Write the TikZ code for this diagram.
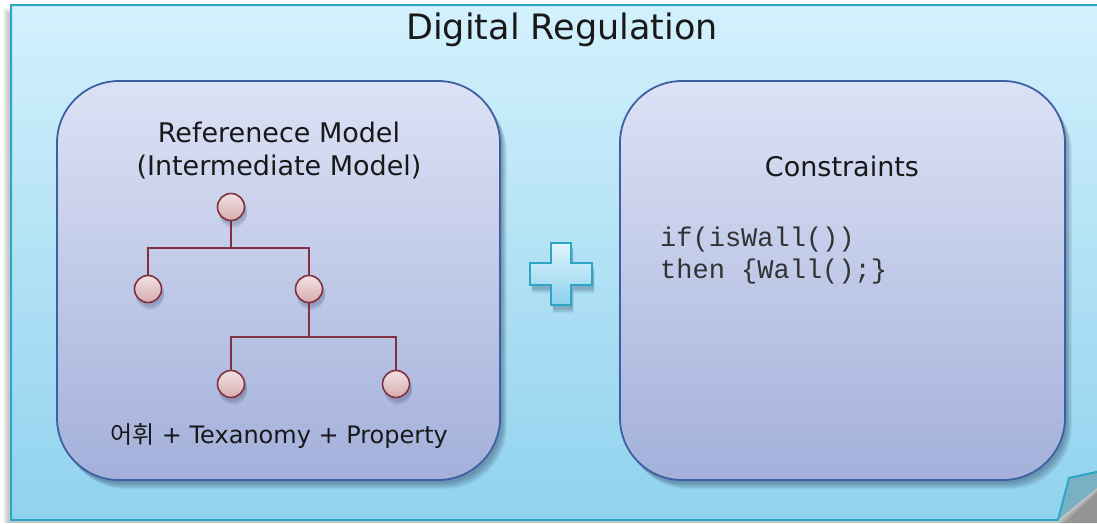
\documentclass[tikz,border=0pt]{standalone}
\usepackage{fontspec}
\setmainfont{DejaVu Sans}
\newfontfamily\krfont{Noto Sans CJK KR}
\newfontfamily\codefont{Liberation Mono}
\definecolor{outerline}{RGB}{46,166,198}
\definecolor{outertop}{RGB}{211,241,253}
\definecolor{outerbot}{RGB}{144,210,238}
\definecolor{panelline}{RGB}{62,96,162}
\definecolor{paneltop}{RGB}{220,226,245}
\definecolor{panelbot}{RGB}{163,176,218}
\definecolor{treeline}{RGB}{128,48,64}
\definecolor{nodetop}{RGB}{242,226,226}
\definecolor{nodebot}{RGB}{214,172,176}
\definecolor{plustop}{RGB}{224,245,253}
\definecolor{plusbot}{RGB}{140,208,236}
\definecolor{foldfill}{RGB}{122,176,196}
\definecolor{shadowc}{RGB}{40,60,90}
\tikzset{
  panel/.style={rounded corners=62pt, draw=panelline, line width=1.8pt,
    top color=paneltop, bottom color=panelbot},
  treenode/.style={circle, minimum size=27pt, inner sep=0pt, draw=treeline,
    line width=1.6pt, top color=nodetop, bottom color=nodebot},
  treelink/.style={draw=treeline, line width=2pt},
  label/.style={text=black!90, inner sep=0pt, anchor=base},
  caption/.style={label, font=\fontsize{27}{30}\selectfont},
  codeline/.style={text=black!80, inner sep=0pt, anchor=base west, font=\codefont\fontsize{27}{30}\selectfont},
}
\begin{document}
\begin{tikzpicture}[x=1pt,y=-1pt]
\useasboundingbox (0,0) rectangle (1097,523);
% soft shadow behind the sheet
\foreach \k in {0,...,5}{
  \fill[black, opacity=0.04] (3+\k,8+\k) rectangle (1097,523);
}
% the sheet with its curled corner
\path[top color=outertop, bottom color=outerbot]
  (11,5) -- (1110,5) -- (1110,471) -- (1069,478) -- (1058,520) -- (11,520) -- cycle;
% curl shadow
\foreach \k in {1,...,5}{
  \fill[black, opacity=0.06] (1058+\k,520+\k) -- (1097,488+\k) -- (1097,523) -- (1058+\k,523) -- cycle;
}
\fill[foldfill] (1058,520) -- (1069,478) -- (1097,471) -- (1097,488) -- cycle;
\draw[outerline, line width=2pt, line join=miter]
  (1110,5) -- (11,5) -- (11,520) -- (1058,520) -- (1069,478) -- (1110,469);

% title
\node[label, font=\fontsize{35}{38}\selectfont] (title) at (562,39) {Digital Regulation};

% panel shadows
\foreach \k in {0,...,6}{
  \fill[shadowc, opacity=0.07, rounded corners=62pt]
    (57+2+\k*0.8,81+3+\k) rectangle (500+2+\k*0.8,480+3+\k);
  \fill[shadowc, opacity=0.07, rounded corners=62pt]
    (620+2+\k*0.8,81+3+\k) rectangle (1065+2+\k*0.8,480+3+\k);
}
% panels
\path[panel] (57,81) rectangle (500,480);
\path[panel] (620,81) rectangle (1065,480);

% left panel captions
\node[caption] (ref1) at (279,142) {Referenece Model};
\node[caption] (ref2) at (279,175) {(Intermediate Model)};
\node[label, font=\fontsize{24}{27}\selectfont] (vocab) at (279,443)
  {{\krfont 어휘} + Texanomy + Property};

% tree shadows
\foreach \px/\py in {231/207,148/289,309/289,231/384,396/384}{
  \foreach \k in {1,...,5}{
    \fill[shadowc, opacity=0.06] (\px+2,\py+2+\k) circle (14pt);
  }
}
% tree
\node[treenode] (root) at (231,207) {};
\node[treenode] (lc) at (148,289) {};
\node[treenode] (rc) at (309,289) {};
\node[treenode] (rlc) at (231,384) {};
\node[treenode] (rrc) at (396,384) {};
\draw[treelink] (root.south) -- ++(0,27) -| (lc.north);
\draw[treelink] (root.south) -- ++(0,27) -| (rc.north);
\draw[treelink] (rc.south) -- ++(0,34) -| (rlc.north);
\draw[treelink] (rc.south) -- ++(0,34) -| (rrc.north);

% plus sign
\foreach \k in {1,...,5}{
  \fill[shadowc, opacity=0.07] (553,246+\k) -- ++(20,0) -- ++(0,20) -- ++(21,0) -- ++(0,22) -- ++(-21,0) -- ++(0,20)
    -- ++(-20,0) -- ++(0,-20) -- ++(-21,0) -- ++(0,-22) -- ++(21,0) -- cycle;
}
\path[draw=outerline, line width=1.6pt, top color=plustop, bottom color=plusbot, line join=miter]
  (551,243) -- ++(20,0) -- ++(0,20) -- ++(21,0) -- ++(0,22) -- ++(-21,0) -- ++(0,20)
  -- ++(-20,0) -- ++(0,-20) -- ++(-21,0) -- ++(0,-22) -- ++(21,0) -- cycle;

% right panel
\node[caption] (cons) at (842,176) {Constraints};
\node[codeline] (code1) at (660,246) {if(isWall())};
\node[codeline] (code2) at (660,278) {then \{Wall();\}};
\end{tikzpicture}
\end{document}
